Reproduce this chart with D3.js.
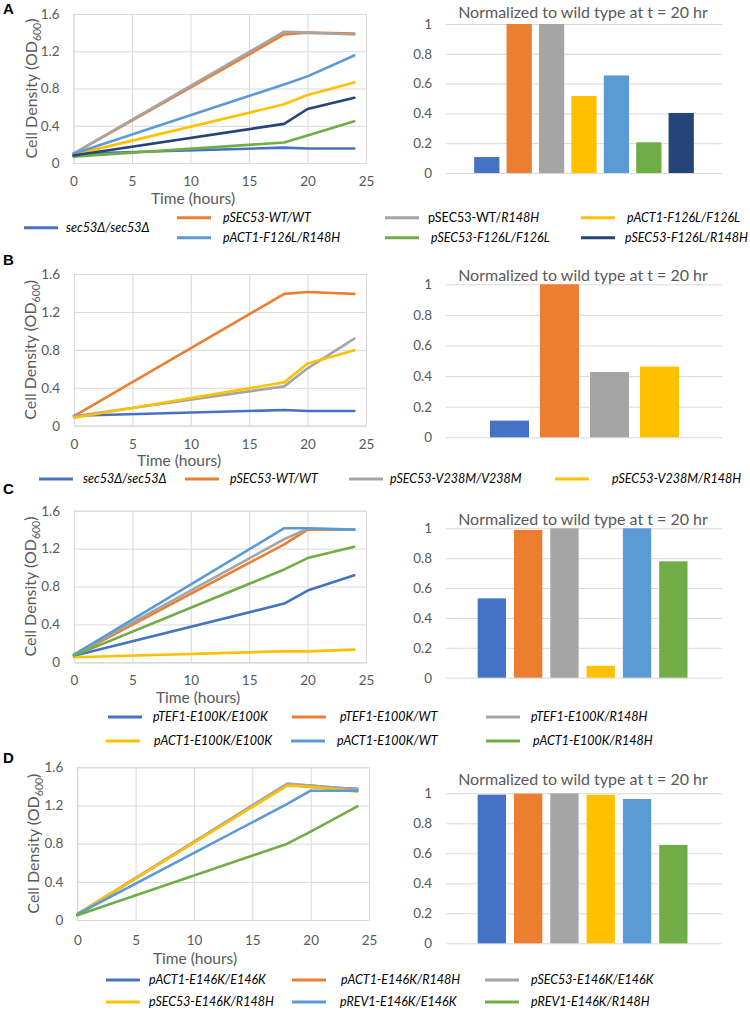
<!DOCTYPE html>
<html>
<head>
<meta charset="utf-8">
<script src="https://cdn.jsdelivr.net/npm/d3@7"></script>
<style>
  body { margin: 0; background: #fff; }
  svg { display: block; font-family: Lato, "Open Sans", sans-serif; }
</style>
</head>
<body>
<script>
'use strict';

// shared axis values
const times = [0, 18, 20, 24];
const timeTicks = [0, 5, 10, 15, 20, 25];
const odTicks = [0, 0.4, 0.8, 1.2, 1.6];
const normTicks = [0, 0.2, 0.4, 0.6, 0.8, 1];
const barTitle = 'Normalized to wild type at t = 20 hr';

// panel A
const strainsA = ['sec53Δ/sec53Δ', 'pSEC53-WT/WT', 'pSEC53-WT/R148H', 'pACT1-F126L/F126L',
  'pACT1-F126L/R148H', 'pSEC53-F126L/F126L', 'pSEC53-F126L/R148H'];
const uprightA = ['', '', 'pSEC53-WT/', '', '', '', ''];
const colorsA = ['#4472C4', '#ED7D31', '#A5A5A5', '#FFC000', '#5B9BD5', '#70AD47', '#264478'];
const odA = [
  [0.10, 0.165, 0.155, 0.155],
  [0.10, 1.38, 1.40, 1.39],
  [0.10, 1.41, 1.40, 1.38],
  [0.09, 0.63, 0.73, 0.865],
  [0.10, 0.843, 0.93, 1.155],
  [0.068, 0.22, 0.295, 0.448],
  [0.08, 0.42, 0.58, 0.70]
];
const normA = [0.107, 1.0, 1.0, 0.517, 0.655, 0.206, 0.403];

// panel B
const strainsB = ['sec53Δ/sec53Δ', 'pSEC53-WT/WT', 'pSEC53-V238M/V238M', 'pSEC53-V238M/R148H'];
const uprightB = ['', '', '', ''];
const colorsB = ['#4472C4', '#ED7D31', '#A5A5A5', '#FFC000'];
const odB = [
  [0.105, 0.165, 0.155, 0.155],
  [0.10, 1.39, 1.41, 1.39],
  [0.10, 0.415, 0.605, 0.918],
  [0.084, 0.457, 0.657, 0.795]
];
const normB = [0.109, 1.0, 0.427, 0.462];

// panel C
const strainsC = ['pTEF1-E100K/E100K', 'pTEF1-E100K/WT', 'pTEF1-E100K/R148H',
  'pACT1-E100K/E100K', 'pACT1-E100K/WT', 'pACT1-E100K/R148H'];
const uprightC = ['', '', '', '', '', ''];
const colorsC = ['#4472C4', '#ED7D31', '#A5A5A5', '#FFC000', '#5B9BD5', '#70AD47'];
const odC = [
  [0.07, 0.62, 0.757, 0.918],
  [0.07, 1.245, 1.40, 1.40],
  [0.08, 1.30, 1.41, 1.40],
  [0.053, 0.116, 0.115, 0.134],
  [0.08, 1.415, 1.415, 1.40],
  [0.07, 0.98, 1.10, 1.22]
];
const normC = [0.531, 0.989, 1.0, 0.08, 1.0, 0.779];

// panel D
const strainsD = ['pACT1-E146K/E146K', 'pACT1-E146K/R148H', 'pSEC53-E146K/E146K',
  'pSEC53-E146K/R148H', 'pREV1-E146K/E146K', 'pREV1-E146K/R148H'];
const uprightD = ['', '', '', '', '', ''];
const colorsD = ['#4472C4', '#ED7D31', '#A5A5A5', '#FFC000', '#5B9BD5', '#70AD47'];
const odD = [
  [0.06, 1.42, 1.395, 1.375],
  [0.06, 1.42, 1.41, 1.365],
  [0.06, 1.43, 1.41, 1.37],
  [0.063, 1.408, 1.397, 1.345],
  [0.06, 1.216, 1.355, 1.355],
  [0.05, 0.80, 0.926, 1.19]
];
const normD = [0.991, 0.998, 1.0, 0.99, 0.962, 0.656];

const textColor = '#595959';
const gridColor = '#D9D9D9';

(function() {

  const svg = d3.select('body').append('svg')
    .attr('width', 750)
    .attr('height', 1011);

  // layout of each panel (pixel positions only)
  const panels = [
    { label: 'A', labelY: 14, strains: strainsA, upright: uprightA, colors: colorsA, od: odA, norm: normA,
      line: { x0: 73.5, x1: 366, y0: 163, y1: 14, tickY: 181.5, titleX: 193, titleY: 199, yTitleX: 31 },
      bar: { x0: 470.6, x1: 697.4, y0: 173, y1: 24, titleY: 12 },
      legend: [[24, 66, 227.7], [177, 223, 217.7], [385, 428, 217.7], [581, 627, 217.7],
               [177, 223, 237.7], [385, 431, 237.7], [581, 625, 237.7]] },
    { label: 'B', labelY: 265, strains: strainsB, upright: uprightB, colors: colorsB, od: odB, norm: normB,
      line: { x0: 74, x1: 366, y0: 425.7, y1: 274, tickY: 444, titleX: 179, titleY: 460.5, yTitleX: 30 },
      bar: { x0: 484.5, x1: 684.5, y0: 437.3, y1: 284.3, titleY: 275 },
      legend: [[39, 83, 479], [185, 230, 479], [349, 390, 479], [555, 612, 479]] },
    { label: 'C', labelY: 494, strains: strainsC, upright: uprightC, colors: colorsC, od: odC, norm: normC,
      line: { x0: 74, x1: 366, y0: 662.3, y1: 510.7, tickY: 680.7, titleX: 198, titleY: 697.5, yTitleX: 30 },
      bar: { x0: 473.7, x1: 691.5, y0: 677.7, y1: 528.3, titleY: 519 },
      legend: [[108, 153, 717], [292, 340, 717], [486, 531, 717],
               [106, 154, 741], [291, 337, 741], [486, 533, 741]] },
    { label: 'D', labelY: 763, strains: strainsD, upright: uprightD, colors: colorsD, od: odD, norm: normD,
      line: { x0: 77.3, x1: 369, y0: 920, y1: 767.3, tickY: 940, titleX: 195, titleY: 959, yTitleX: 33 },
      bar: { x0: 473.7, x1: 691.5, y0: 943.3, y1: 793.3, titleY: 779 },
      legend: [[106, 149, 980], [292, 341, 980], [485, 531, 980],
               [106, 149, 1002], [292, 340, 1002], [485, 531, 1002]] }
  ];

  panels.forEach(drawPanel);

  function drawPanel(p) {
    svg.append('text')
      .attr('x', 3)
      .attr('y', p.labelY)
      .style('font-family', '"Liberation Sans", Arial, sans-serif')
      .style('font-weight', 'bold')
      .style('font-size', '15px')
      .attr('fill', '#000')
      .text(p.label);

    drawLines(p);
    drawBars(p);
    drawLegend(p);
  }

  // growth curves with grid and axes
  function drawLines(p) {
    const m = p.line;
    const x = d3.scaleLinear().domain([0, 25]).range([m.x0, m.x1]);
    const y = d3.scaleLinear().domain([0, 1.6]).range([m.y0, m.y1]);
    const g = svg.append('g');

    // horizontal grid + y labels
    g.append('g')
      .attr('transform', 'translate(' + m.x0 + ',0)')
      .call(d3.axisLeft(y).tickValues(odTicks).tickSize(-(m.x1 - m.x0)).tickPadding(14)
        .tickFormat(d => d === 0 ? '0' : d3.format('.1f')(d)))
      .call(styleAxis);

    // vertical grid + x labels
    g.append('g')
      .attr('transform', 'translate(0,' + m.y0 + ')')
      .call(d3.axisBottom(x).tickValues(timeTicks).tickSize(-(m.y0 - m.y1)).tickSizeOuter(0))
      .call(styleAxis)
      .call(a => a.selectAll('text').attr('y', m.tickY - m.y0).attr('dy', '0.35em'));

    g.append('text')
      .attr('x', m.titleX)
      .attr('y', m.titleY)
      .attr('dy', '0.35em')
      .attr('text-anchor', 'middle')
      .attr('fill', textColor)
      .style('font-size', '15.5px')
      .text('Time (hours)');

    const yt = g.append('text')
      .attr('transform', 'translate(' + m.yTitleX + ',' + ((m.y0 + m.y1) / 2) + ') rotate(-90)')
      .attr('text-anchor', 'middle')
      .attr('dy', '0.35em')
      .attr('fill', textColor)
      .style('font-size', '16px');
    yt.append('tspan').text('Cell Density (OD');
    yt.append('tspan').attr('dy', 4).style('font-size', '10.5px').text('600');
    yt.append('tspan').attr('dy', -4).text(')');

    const line = d3.line()
      .x(d => x(d[0]))
      .y(d => y(d[1]));

    p.od.forEach((vals, i) => {
      g.append('path')
        .datum(times.map((t, k) => [t, vals[k]]))
        .attr('fill', 'none')
        .attr('stroke', p.colors[i])
        .attr('stroke-width', 2.6)
        .attr('stroke-linejoin', 'round')
        .attr('stroke-linecap', 'round')
        .attr('d', line);
    });
  }

  // normalized bar chart
  function drawBars(p) {
    const m = p.bar;
    const gx0 = 446, gx1 = 722;
    const x = d3.scaleBand().domain(p.strains).range([m.x0, m.x1])
      .paddingInner(0.22).paddingOuter(0.11);
    const y = d3.scaleLinear().domain([0, 1]).range([m.y0, m.y1]);
    const g = svg.append('g');

    g.append('g')
      .attr('transform', 'translate(' + gx0 + ',0)')
      .call(d3.axisLeft(y).tickValues(normTicks).tickSize(-(gx1 - gx0)).tickPadding(14)
        .tickFormat(d3.format('')))
      .call(styleAxis)
      .call(a => a.select('.domain').remove());

    g.selectAll('.bar')
      .data(p.norm)
      .enter()
      .append('rect')
        .attr('x', (d, i) => x(p.strains[i]))
        .attr('y', d => y(d))
        .attr('width', x.bandwidth())
        .attr('height', d => y(0) - y(d))
        .attr('fill', (d, i) => p.colors[i]);

    g.append('text')
      .attr('x', 583)
      .attr('y', m.titleY)
      .attr('dy', '0.35em')
      .attr('text-anchor', 'middle')
      .attr('fill', textColor)
      .style('font-size', '16px')
      .text(barTitle);
  }

  function drawLegend(p) {
    p.legend.forEach((pos, i) => {
      svg.append('line')
        .attr('x1', pos[0])
        .attr('x2', pos[0] + 34)
        .attr('y1', pos[2])
        .attr('y2', pos[2])
        .attr('stroke', p.colors[i])
        .attr('stroke-width', 3);
      const t = svg.append('text')
        .attr('x', pos[1])
        .attr('y', pos[2])
        .attr('dy', '0.35em')
        .attr('fill', '#000')
        .style('font-size', '12.5px');
      const pre = p.upright[i];
      if (pre) t.append('tspan').text(pre);
      t.append('tspan').style('font-style', 'italic').text(p.strains[i].slice(pre.length));
    });
  }

  function styleAxis(a) {
    a.selectAll('line').attr('stroke', gridColor);
    a.select('.domain').attr('stroke', gridColor);
    a.selectAll('text')
      .attr('fill', textColor)
      .style('font-size', '13.5px')
      .style('font-family', 'Lato, sans-serif');
  }

})();
</script>
</body>
</html>
